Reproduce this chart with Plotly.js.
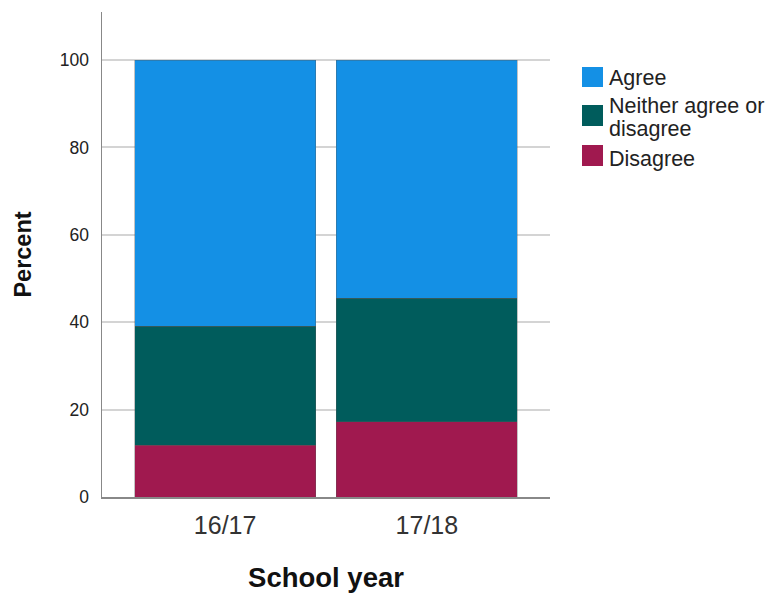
<!DOCTYPE html>
<html><head><meta charset="utf-8">
<script src="https://cdn.plot.ly/plotly-3.0.1.min.js"></script>
<style>body{margin:0;padding:0;background:#fff}#chart{width:772px;height:593px}</style>
</head><body><div id="chart"></div>
<script>
const categories = ["16/17", "17/18"];
const disagree = [11.9, 17.2];
const neither = [27.2, 28.3];
const agree = [60.9, 54.5];
const seriesNames = ["Disagree", "Neither agree or<br>disagree", "Agree"];
const seriesColors = ["#A0194F", "#005C5C", "#1490E5"];
const yTicks = [0, 20, 40, 60, 80, 100];

const vals = [disagree, neither, agree];
const traces = vals.map((v, i) => ({
  type: "bar", x: categories, y: v, name: seriesNames[i],
  marker: {color: seriesColors[i], line: {color: "rgba(90,90,90,0.6)", width: 0.6}},
  hoverinfo: "skip", showlegend: false
}));

// custom legend (boxes + labels), laid out in pixel space of the figure
const L = 102, T = 12, PW = 448, PH = 485;
const px = x => (x - L) / PW;
const py = y => (T + PH - y) / PH;
const legendRows = [ // top to bottom: Agree, Neither, Disagree
  {i: 2, box: [67, 87], lines: [78]},
  {i: 1, box: [105, 126], lines: [106, 129]},
  {i: 0, box: [145, 166], lines: [159]}
];
const shapes = [], annotations = [];
legendRows.forEach(r => {
  shapes.push({type: "rect", xref: "paper", yref: "paper",
    x0: px(582), x1: px(603), y0: py(r.box[1]), y1: py(r.box[0]),
    fillcolor: seriesColors[r.i], line: {width: 0}});
  seriesNames[r.i].split("<br>").forEach((t, k) => {
    annotations.push({xref: "paper", yref: "paper", x: px(607), y: py(r.lines[k]),
      xanchor: "left", yanchor: "middle", showarrow: false, text: t,
      font: {size: 21.5, color: "#222"}});
  });
});

const layout = {
  width: 772, height: 593,
  margin: {l: L, r: 772 - L - PW, t: T, b: 593 - T - PH},
  barmode: "stack", bargap: 0.104,
  paper_bgcolor: "#fff", plot_bgcolor: "#fff",
  font: {family: "Liberation Sans, Arial, sans-serif", color: "#222"},
  xaxis: {
    range: [-0.61, 1.61], showgrid: false, showline: true, linecolor: "#888", linewidth: 1.5,
    ticks: "", tickfont: {size: 25, color: "#333"}, ticklabelstandoff: 5,
    title: {text: "<b>School year</b>", font: {size: 27.5, color: "#111"}, standoff: 31}
  },
  yaxis: {
    range: [0, 111], tickvals: yTicks, showline: true, linecolor: "#888", linewidth: 1.5,
    showgrid: true, gridcolor: "#d4d4d4", gridwidth: 2, zeroline: false,
    ticks: "", tickfont: {size: 17.5, color: "#222"}, ticklabelstandoff: 8,
    title: {text: "<b>Percent</b>", font: {size: 23.5, color: "#111"}, standoff: 21}
  },
  shapes: shapes, annotations: annotations,
  showlegend: false
};
Plotly.newPlot("chart", traces, layout, {staticPlot: true});
</script></body></html>
